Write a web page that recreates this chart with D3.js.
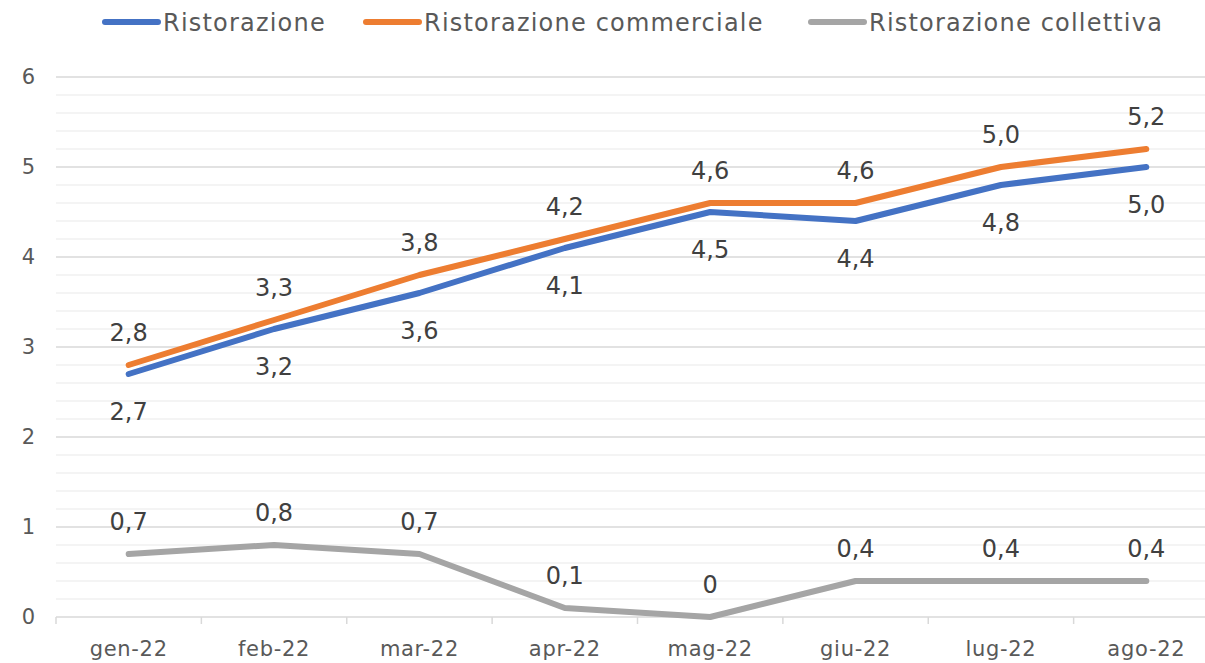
<!DOCTYPE html>
<html>
<head>
<meta charset="utf-8">
<script src="https://cdn.jsdelivr.net/npm/d3@7"></script>
<style>
  body { margin: 0; background: #fff; overflow: hidden; }
  svg { font-family: "DejaVu Sans", sans-serif; display: block; }
</style>
</head>
<body>
<div id="chart"></div>
<script>
const months = ['gen-22', 'feb-22', 'mar-22', 'apr-22', 'mag-22', 'giu-22', 'lug-22', 'ago-22'];
const ristorazione = [2.7, 3.2, 3.6, 4.1, 4.5, 4.4, 4.8, 5.0];
const commerciale = [2.8, 3.3, 3.8, 4.2, 4.6, 4.6, 5.0, 5.2];
const collettiva = [0.7, 0.8, 0.7, 0.1, 0, 0.4, 0.4, 0.4];
const yTicks = [0, 1, 2, 3, 4, 5, 6];

const fmt1 = v => d3.format('.1f')(v).replace('.', ',');
const series = [
  { name: 'Ristorazione', values: ristorazione, color: '#4472C4', labelPos: 'below', fmt: fmt1 },
  { name: 'Ristorazione commerciale', values: commerciale, color: '#ED7D31', labelPos: 'above', fmt: fmt1 },
  { name: 'Ristorazione collettiva', values: collettiva, color: '#A5A5A5', labelPos: 'above', fmt: v => v === 0 ? '0' : fmt1(v) }
];

const width = 1205, height = 663;
const margin = { top: 77, bottom: 46, left: 56 };
// il grafico originale prosegue oltre il bordo destro
const innerWidth = 1163;
const innerHeight = height - margin.top - margin.bottom;

const svg = d3.select('#chart')
  .append('svg')
  .attr('width', width)
  .attr('height', height);

const x = d3.scaleBand()
  .domain(months)
  .range([margin.left, margin.left + innerWidth]);

const y = d3.scaleLinear()
  .domain([0, 6])
  .range([margin.top + innerHeight, margin.top]);

// griglia secondaria
svg.append('g')
  .selectAll('line')
  .data(d3.range(0, 30).map(i => i / 5).filter(v => Math.abs(v - Math.round(v)) > 1e-6))
  .enter()
  .append('line')
  .attr('x1', x.range()[0])
  .attr('x2', x.range()[1])
  .attr('y1', d => y(d))
  .attr('y2', d => y(d))
  .attr('stroke', '#f0f0f0')
  .attr('stroke-width', 1.5);

// griglia principale
svg.append('g')
  .selectAll('line')
  .data(yTicks.slice(1))
  .enter()
  .append('line')
  .attr('x1', x.range()[0])
  .attr('x2', x.range()[1])
  .attr('y1', d => y(d))
  .attr('y2', d => y(d))
  .attr('stroke', '#d9d9d9')
  .attr('stroke-width', 1.5);

// etichette asse y
svg.append('g')
  .selectAll('text')
  .data(yTicks)
  .enter()
  .append('text')
  .attr('x', margin.left - 21)
  .attr('y', d => y(d))
  .attr('dy', '0.35em')
  .attr('text-anchor', 'end')
  .attr('fill', '#595959')
  .style('font-size', '21px')
  .text(d3.format('d'));

// asse x
svg.append('line')
  .attr('x1', x.range()[0])
  .attr('x2', x.range()[1])
  .attr('y1', y(0))
  .attr('y2', y(0))
  .attr('stroke', '#d9d9d9')
  .attr('stroke-width', 1.5);

svg.append('g')
  .selectAll('text')
  .data(months)
  .enter()
  .append('text')
  .attr('x', d => x(d) + x.bandwidth() / 2)
  .attr('y', y(0) + 39)
  .attr('text-anchor', 'middle')
  .attr('fill', '#595959')
  .style('font-size', '21px')
  .style('letter-spacing', '0.7px')
  .text(d => d);

// tacche ai bordi delle categorie
svg.append('g')
  .selectAll('line')
  .data(d3.range(months.length + 1))
  .enter()
  .append('line')
  .attr('x1', i => x.range()[0] + i * x.step())
  .attr('x2', i => x.range()[0] + i * x.step())
  .attr('y1', y(0))
  .attr('y2', y(0) + 7)
  .attr('stroke', '#d9d9d9')
  .attr('stroke-width', 1.5);

const line = d3.line()
  .x((d, i) => x(months[i]) + x.bandwidth() / 2)
  .y(d => y(d));

// linee
series.slice().reverse().forEach(s => {
  svg.append('path')
    .datum(s.values)
    .attr('fill', 'none')
    .attr('stroke', s.color)
    .attr('stroke-width', 6)
    .attr('stroke-linecap', 'round')
    .attr('stroke-linejoin', 'round')
    .attr('d', line);
});

// etichette dati
series.forEach(s => {
  svg.append('g')
    .selectAll('text')
    .data(s.values)
    .enter()
    .append('text')
    .attr('x', (d, i) => x(months[i]) + x.bandwidth() / 2)
    .attr('y', d => y(d) + (s.labelPos === 'above' ? -24 : 46))
    .attr('text-anchor', 'middle')
    .attr('fill', '#404040')
    .style('font-size', '24px')
    .text(d => s.fmt(d));
});

// legenda
const legendX = [102, 363, 808];
series.forEach((s, i) => {
  svg.append('line')
    .attr('x1', legendX[i] + 3).attr('x2', legendX[i] + 56)
    .attr('y1', 22).attr('y2', 22)
    .attr('stroke', s.color)
    .attr('stroke-width', 6)
    .attr('stroke-linecap', 'round');
  svg.append('text')
    .attr('x', legendX[i] + 61)
    .attr('y', 31)
    .attr('fill', '#595959')
    .style('font-size', '24px')
    .style('letter-spacing', '1.2px')
    .text(s.name);
});
</script>
</body>
</html>
